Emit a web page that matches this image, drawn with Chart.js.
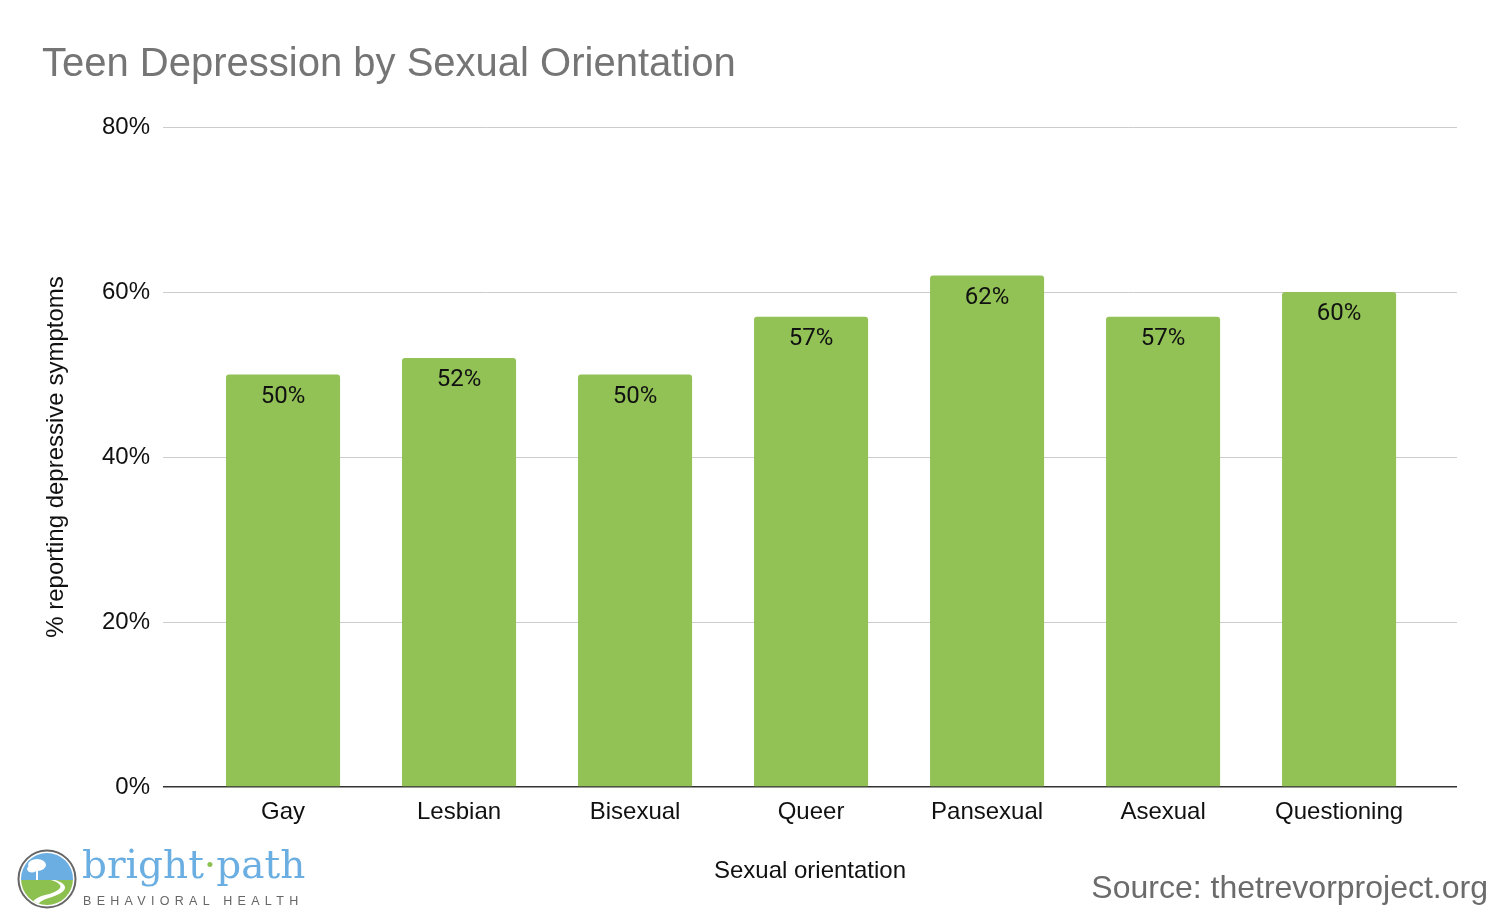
<!DOCTYPE html>
<html>
<head>
<meta charset="utf-8">
<script src="https://cdn.jsdelivr.net/npm/chart.js@4"></script>
<style>
  html, body { margin: 0; padding: 0; background: #fff; }
  #wrap { position: relative; width: 1500px; height: 922px; }
  #c { position: absolute; left: 0; top: 0; }
  #source { position: absolute; right: 12px; top: 869px; font-family: "Liberation Sans", Arial, sans-serif; font-size: 32px; color: #6b6b6b; }
  #logo { position: absolute; left: 17px; top: 849px; width: 300px; height: 62px; }
  #logo .name { position: absolute; left: 65px; top: -7px; font-family: "DejaVu Serif", "Liberation Serif", serif; font-size: 39px; color: #6aaee2; white-space: nowrap; }
  #logo .name .dot { color: #8cc04f; }
  #logo .sub { position: absolute; left: 66px; top: 45px; font-family: "Liberation Sans", Arial, sans-serif; font-size: 12.5px; color: #666; letter-spacing: 5.3px; white-space: nowrap; }
</style>
</head>
<body>
<div id="wrap">
  <canvas id="c" width="1500" height="922"></canvas>
  <div id="logo">
    <svg width="60" height="60" viewBox="0 0 60 60" style="position:absolute;left:0;top:0">
      <defs><clipPath id="cc"><circle cx="30" cy="30" r="26"/></clipPath></defs>
      <circle cx="30" cy="30" r="28.5" fill="#fff" stroke="#666" stroke-width="2"/>
      <g clip-path="url(#cc)">
        <rect x="0" y="0" width="60" height="31" fill="#6aaee2"/>
        <rect x="0" y="31" width="60" height="30" fill="#8cc04f"/>
        <path d="M34 31 C 50 36, 44 42, 28 46 C 14 50, 14 55, 16 60 L 22 60 C 20 55, 22 52, 32 49 C 50 44, 54 36, 38 31 Z" fill="#fff"/>
        <rect x="19" y="20" width="2" height="11" fill="#fff"/>
        <ellipse cx="20" cy="16" rx="9" ry="6" fill="#fff"/>
        <ellipse cx="15" cy="20" rx="5" ry="3.5" fill="#fff"/>
      </g>
    </svg>
    <div class="name">bright<span class="dot">·</span>path</div>
    <div class="sub">BEHAVIORAL HEALTH</div>
  </div>
  <div id="source">Source: thetrevorproject.org</div>
</div>
<script>
const categories = ["Gay", "Lesbian", "Bisexual", "Queer", "Pansexual", "Asexual", "Questioning"];
const values = [50, 52, 50, 57, 62, 57, 60];
const yTicks = [0, 20, 40, 60, 80];

const points = categories.map((c, i) => ({ x: i, y: values[i] }));

const labelPlugin = {
  id: 'barLabels',
  afterDatasetsDraw(chart) {
    const ctx = chart.ctx;
    const meta = chart.getDatasetMeta(0);
    ctx.save();
    ctx.font = '24px Roboto, "Liberation Sans", sans-serif';
    ctx.fillStyle = '#111';
    ctx.textAlign = 'center';
    ctx.textBaseline = 'middle';
    meta.data.forEach((bar, i) => {
      ctx.fillText(values[i] + '%', bar.x, bar.y + 22);
    });
    ctx.restore();
  }
};

const axisFont = { family: '"Liberation Sans", Arial, sans-serif', size: 24 };

new Chart(document.getElementById('c'), {
  type: 'bar',
  data: {
    datasets: [{
      data: points,
      backgroundColor: '#92c156',
      borderRadius: { topLeft: 3, topRight: 3, bottomLeft: 0, bottomRight: 0 },
      borderSkipped: 'bottom',
      categoryPercentage: 1.0,
      barPercentage: 0.648
    }]
  },
  options: {
    responsive: false,
    animation: false,
    devicePixelRatio: 1,
    layout: { padding: { left: 42, right: 43, top: 0, bottom: 36 } },
    plugins: {
      legend: { display: false },
      tooltip: { enabled: false },
      title: {
        display: true,
        text: 'Teen Depression by Sexual Orientation',
        align: 'start',
        color: '#757575',
        font: { family: '"Liberation Sans", Arial, sans-serif', size: 40, weight: 'normal' },
        padding: { top: 41, bottom: 38 }
      }
    },
    scales: {
      x: {
        type: 'linear',
        offset: false,
        min: -0.682,
        max: 6.670,
        afterBuildTicks(scale) { scale.ticks = categories.map((c, i) => ({ value: i })); },
        grid: { display: false, drawTicks: false, offset: false },
        border: { display: false },
        ticks: {
          color: '#111',
          font: axisFont,
          padding: 11,
          maxRotation: 0,
          autoSkip: false,
          callback: v => categories[v]
        },
        title: {
          display: true,
          text: 'Sexual orientation',
          color: '#111',
          font: axisFont,
          padding: 0
        },
        afterFit(scale) { scale.height = 99; }
      },
      y: {
        min: 0,
        max: 80,
        afterBuildTicks(scale) { scale.ticks = yTicks.map(v => ({ value: v })); },
        grid: {
          drawTicks: false,
          color: ctx => ctx.tick && ctx.tick.value === 0 ? '#333' : '#cccccc',
          lineWidth: ctx => ctx.tick && ctx.tick.value === 0 ? 1.5 : 1
        },
        border: { display: false },
        ticks: {
          color: '#111',
          font: axisFont,
          padding: 13,
          callback: v => v + '%'
        },
        title: {
          display: true,
          text: '% reporting depressive symptoms',
          color: '#111',
          font: axisFont,
          padding: 0
        },
        afterFit(scale) { scale.width = 121; }
      }
    }
  },
  plugins: [labelPlugin]
});
</script>
</body>
</html>
